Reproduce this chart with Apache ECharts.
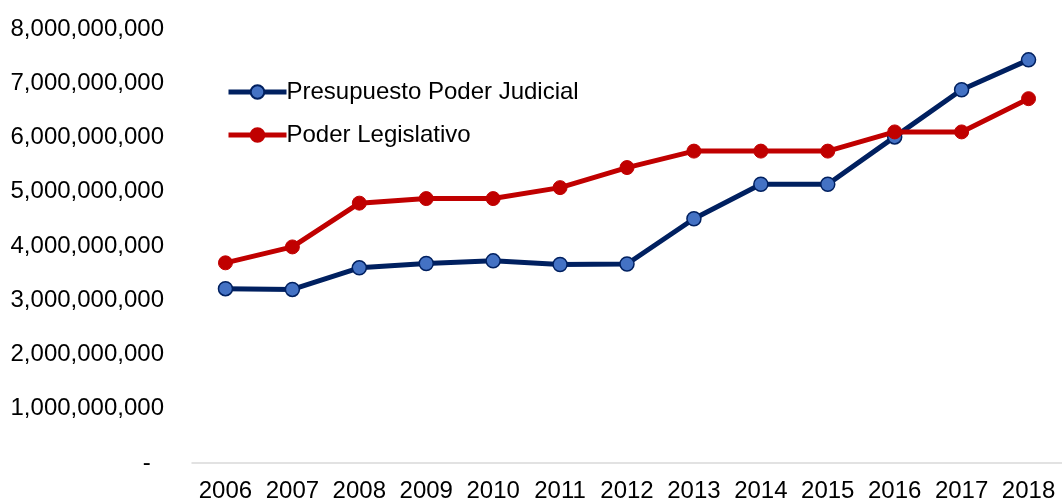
<!DOCTYPE html>
<html>
<head>
<meta charset="utf-8">
<script src="https://cdn.jsdelivr.net/npm/echarts@6/dist/echarts.min.js"></script>
<style>
	html, body { margin: 0; padding: 0; background: #fff; }
	#line { width: 1062px; height: 503px; }
</style>
</head>
<body>
<div id="line"></div>
<script>
// 数据
const years = ['2006', '2007', '2008', '2009', '2010', '2011', '2012', '2013', '2014', '2015', '2016', '2017', '2018'];
const judicial = [3213000000, 3200000000, 3598000000, 3677000000, 3726000000, 3659000000, 3668000000, 4502000000, 5138000000, 5138000000, 6011000000, 6881000000, 7431000000];
const legislativo = [3690000000, 3983000000, 4790000000, 4874000000, 4874000000, 5076000000, 5446000000, 5749000000, 5749000000, 5749000000, 6103000000, 6103000000, 6716000000];
const yTicks = [0, 1000000000, 2000000000, 3000000000, 4000000000, 5000000000, 6000000000, 7000000000, 8000000000];

let myChart = echarts.init(document.getElementById('line'));
const font = 'Liberation Sans, Arial, sans-serif';

myChart.setOption({
	animation: false,
	textStyle: { fontFamily: font },
	grid: {
		left: 192,
		right: -1,
		top: 29,
		bottom: 37
	},
	legend: {
		orient: 'vertical',
		left: 221,
		top: 75,
		itemGap: 19,
		itemWidth: 58,
		itemHeight: 17,
		lineStyle: { width: 5 },
		textStyle: { fontSize: 24, color: '#000', fontFamily: font, padding: [0, 0, 0, -5] },
		data: ['Presupuesto Poder Judicial', 'Poder Legislativo']
	},
	xAxis: {
		type: 'category',
		data: years,
		boundaryGap: true,
		axisLine: { lineStyle: { color: '#d9d9d9', width: 1.5 } },
		axisTick: { show: false },
		axisLabel: { fontSize: 24, color: '#000', margin: 16, interval: 0 }
	},
	yAxis: {
		type: 'value',
		min: yTicks[0],
		max: yTicks[yTicks.length - 1],
		interval: 1000000000,
		splitLine: { show: false },
		axisLine: { show: false },
		axisTick: { show: false },
		axisLabel: {
			fontSize: 24,
			color: '#000',
			margin: 28,
			formatter: function (v) {
				if (v === 0) return '-  ';
				return v.toLocaleString('en-US');
			}
		}
	},
	series: [{
		name: 'Presupuesto Poder Judicial',
		type: 'line',
		data: judicial,
		symbol: 'circle',
		symbolSize: 14,
		lineStyle: { color: '#002060', width: 5 },
		itemStyle: { color: '#4472c4', borderColor: '#002060', borderWidth: 1.5 },
		z: 2
	}, {
		name: 'Poder Legislativo',
		type: 'line',
		data: legislativo,
		symbol: 'circle',
		symbolSize: 14,
		lineStyle: { color: '#c00000', width: 5 },
		itemStyle: { color: '#c00000', borderColor: '#c00000', borderWidth: 1 },
		z: 3
	}]
});
</script>
</body>
</html>
